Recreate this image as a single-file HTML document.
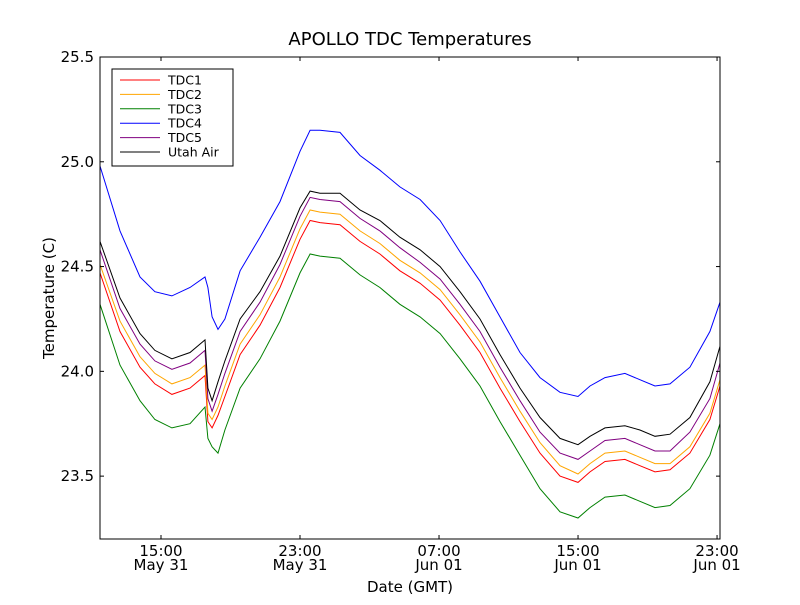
<!DOCTYPE html>
<html><head><meta charset="utf-8"><style>
body{margin:0;background:#fff}
svg{font-family:"DejaVu Sans","Liberation Sans",sans-serif}
</style></head><body>
<svg id="chart" width="800" height="600" xmlns="http://www.w3.org/2000/svg">
<rect width="800" height="600" fill="#fff"/>
<text x="410" y="45" font-size="18" text-anchor="middle">APOLLO TDC Temperatures</text>
<text x="410" y="592" font-size="15" text-anchor="middle">Date (GMT)</text>
<text x="54" y="298" font-size="15" text-anchor="middle" transform="rotate(-90 54 298)">Temperature (C)</text>
<g id="plot"></g>
<g id="axes"></g>
<g id="legend"></g>
</svg>
<script>
const times=[11.49,12.64,13.79,14.65,15.63,16.67,17.53,17.70,17.94,18.28,18.68,19.55,20.70,21.85,23.0,23.58,24.15,25.30,26.45,27.60,28.75,29.91,31.06,32.21,33.36,34.51,35.66,36.81,37.96,39.0,39.69,40.55,41.70,42.56,43.43,44.29,45.44,46.59,47.17];
const tdc1=[24.47,24.19,24.02,23.94,23.89,23.92,23.98,23.76,23.73,23.79,23.88,24.08,24.22,24.40,24.63,24.72,24.71,24.70,24.62,24.56,24.48,24.42,24.34,24.22,24.09,23.92,23.76,23.61,23.50,23.47,23.52,23.57,23.58,23.55,23.52,23.53,23.61,23.77,23.93];
const tdc2=[24.51,24.24,24.07,23.99,23.94,23.97,24.03,23.80,23.77,23.83,23.93,24.13,24.27,24.45,24.68,24.77,24.76,24.75,24.67,24.61,24.53,24.47,24.39,24.27,24.14,23.97,23.81,23.66,23.55,23.51,23.56,23.61,23.62,23.59,23.56,23.56,23.64,23.80,23.96];
const tdc3=[24.32,24.03,23.86,23.77,23.73,23.75,23.83,23.68,23.64,23.61,23.72,23.92,24.06,24.24,24.47,24.56,24.55,24.54,24.46,24.40,24.32,24.26,24.18,24.06,23.93,23.76,23.60,23.44,23.33,23.30,23.35,23.40,23.41,23.38,23.35,23.36,23.44,23.60,23.75];
const tdc4=[24.98,24.67,24.45,24.38,24.36,24.40,24.45,24.40,24.26,24.20,24.25,24.48,24.64,24.81,25.05,25.15,25.15,25.14,25.03,24.96,24.88,24.82,24.72,24.57,24.43,24.26,24.09,23.97,23.90,23.88,23.93,23.97,23.99,23.96,23.93,23.94,24.02,24.19,24.33];
const tdc5=[24.58,24.30,24.13,24.05,24.01,24.04,24.10,23.87,23.81,23.89,23.99,24.19,24.33,24.51,24.74,24.83,24.82,24.81,24.73,24.67,24.59,24.52,24.44,24.32,24.19,24.02,23.86,23.71,23.61,23.58,23.62,23.67,23.68,23.65,23.62,23.62,23.71,23.87,24.04];
const utah=[24.62,24.35,24.18,24.10,24.06,24.09,24.15,23.92,23.86,23.95,24.05,24.25,24.38,24.55,24.78,24.86,24.85,24.85,24.77,24.72,24.64,24.58,24.50,24.38,24.25,24.08,23.92,23.78,23.68,23.65,23.69,23.73,23.74,23.72,23.69,23.70,23.78,23.95,24.12];
const seriesNames=["TDC1","TDC2","TDC3","TDC4","TDC5","Utah Air"];
const yTicks=[23.5,24.0,24.5,25.0,25.5];
const yTickLabels=["23.5","24.0","24.5","25.0","25.5"];
const xTicks=[15,23,31,39,47];
const xTickLabels1=["15:00","23:00","07:00","15:00","23:00"];
const xTickLabels2=["May 31","May 31","Jun 01","Jun 01","Jun 01"];

const L=100,R=720,T=57,B=539;
const tMin=11.49,tMax=47.17,vMin=23.2,vMax=25.5;
const xs=t=>L+(t-tMin)/(tMax-tMin)*(R-L);
const ys=v=>B-(v-vMin)/(vMax-vMin)*(B-T);
const NS="http://www.w3.org/2000/svg";
function mk(tag,attrs,parent){const e=document.createElementNS(NS,tag);for(const k in attrs)e.setAttribute(k,attrs[k]);parent.appendChild(e);return e;}
const plot=document.getElementById('plot'),axes=document.getElementById('axes'),leg=document.getElementById('legend');
const data=[tdc1,tdc2,tdc3,tdc4,tdc5,utah];
const colors=["#ff0000","#ffa500","#008000","#0000ff","#800080","#000000"];
data.forEach((arr,i)=>{
  const d=arr.map((v,j)=>(j?'L':'M')+xs(times[j]).toFixed(1)+' '+ys(v).toFixed(1)).join(' ');
  const p=mk('path',{d:d,fill:'none',stroke:colors[i],'stroke-width':1},plot);
  
  
});
const frame=mk('rect',{x:L,y:T,width:R-L,height:B-T,fill:'none',stroke:'#000','stroke-width':1},axes);


yTicks.forEach((v,i)=>{
  const y=ys(v);
  mk('line',{x1:L,x2:L+4,y1:y,y2:y,stroke:'#000'},axes);
  mk('line',{x1:R,x2:R-4,y1:y,y2:y,stroke:'#000'},axes);
  const t=mk('text',{x:L-6,y:y+5,'font-size':15,'text-anchor':'end'},axes);
  t.textContent=yTickLabels[i];
  
  
});
xTicks.forEach((tv,i)=>{
  const x=xs(tv);
  mk('line',{x1:x,x2:x,y1:B,y2:B-4,stroke:'#000'},axes);
  mk('line',{x1:x,x2:x,y1:T,y2:T+4,stroke:'#000'},axes);
  const t=mk('text',{x:x,y:B+17,'font-size':15,'text-anchor':'middle'},axes);
  t.textContent=xTickLabels1[i];
  
  
  const t2=mk('text',{x:x,y:B+31,'font-size':15,'text-anchor':'middle'},axes);
  t2.textContent=xTickLabels2[i];
  
  
});
const lb=mk('rect',{x:112,y:69,width:121,height:97,fill:'#fff',stroke:'#000'},leg);


seriesNames.forEach((n,i)=>{
  const y=80+i*14.4;
  const g=mk('g',{},leg);
  
  
  mk('line',{x1:120,x2:160,y1:y,y2:y,stroke:colors[i]},g);
  const t=mk('text',{x:168,y:y+4.5,'font-size':12.5},g);
  t.textContent=n;
});
</script>
</body></html>
